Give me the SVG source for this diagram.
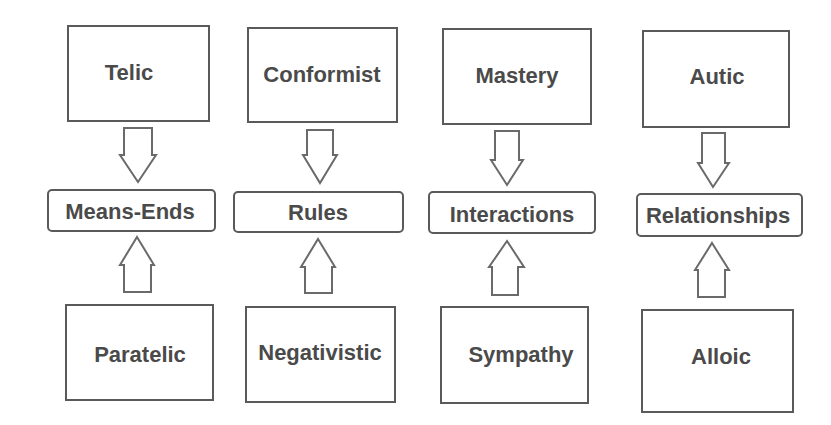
<svg xmlns="http://www.w3.org/2000/svg" width="831" height="425" viewBox="0 0 831 425">
<style>
.box{fill:#fff;stroke:#5a5a5a;stroke-width:2}
.mid{fill:#fff;stroke:#5a5a5a;stroke-width:2}
.arr{fill:#fff;stroke:#6a6a6a;stroke-width:2;stroke-linejoin:miter}
text{font-family:"Liberation Sans",Arial,sans-serif;font-weight:bold;font-size:22px;fill:#4a4a4a;text-anchor:middle}
</style>
<rect width="831" height="425" fill="#fff"/>
<g id="telic"><rect class="box" x="68" y="26" width="141" height="95"/><text x="129" y="80">Telic</text></g>
<g id="conformist"><rect class="box" x="248" y="28" width="149" height="94"/><text x="322" y="82">Conformist</text></g>
<g id="mastery"><rect class="box" x="443" y="29" width="148" height="95"/><text x="517" y="83">Mastery</text></g>
<g id="autic"><rect class="box" x="643" y="31" width="146" height="96"/><text x="717" y="84">Autic</text></g>
<g id="means-ends"><rect class="mid" x="48" y="190" width="167" height="41" rx="4"/><text x="130" y="219">Means-Ends</text></g>
<g id="rules"><rect class="mid" x="234" y="192" width="169" height="40" rx="4"/><text x="318" y="220">Rules</text></g>
<g id="interactions"><rect class="mid" x="429" y="192" width="166" height="41" rx="4"/><text x="512" y="222">Interactions</text></g>
<g id="relationships"><rect class="mid" x="637" y="194" width="165" height="42" rx="4"/><text x="718" y="223">Relationships</text></g>
<g id="paratelic"><rect class="box" x="66" y="305" width="147" height="95"/><text x="140" y="362">Paratelic</text></g>
<g id="negativistic"><rect class="box" x="246" y="307" width="149" height="95"/><text x="320" y="360">Negativistic</text></g>
<g id="sympathy"><rect class="box" x="441" y="307" width="147" height="96"/><text x="521" y="362">Sympathy</text></g>
<g id="alloic"><rect class="box" x="642" y="310" width="151" height="102"/><text x="721" y="364">Alloic</text></g>
<g id="connectors">
<polygon class="arr" points="124,128 152,128 152,155 156,155 138,182 120,155 124,155"/>
<polygon class="arr" points="307,130 333,130 333,155 337,155 320,183 303,155 307,155"/>
<polygon class="arr" points="495,131 519,131 519,160 523,160 507,185 491,160 495,160"/>
<polygon class="arr" points="702,133 725,133 725,163 729,163 713,187 698,163 702,163"/>
<polygon class="arr" points="137,237 154,265 151,265 151,292 124,292 124,265 120,265"/>
<polygon class="arr" points="318,239 335,267 332,267 332,293 305,293 305,267 301,267"/>
<polygon class="arr" points="507,241 524,267 518,267 518,295 492,295 492,267 489,267"/>
<polygon class="arr" points="712,243 729,270 725,270 725,297 698,297 698,270 695,270"/>
</g>
</svg>
